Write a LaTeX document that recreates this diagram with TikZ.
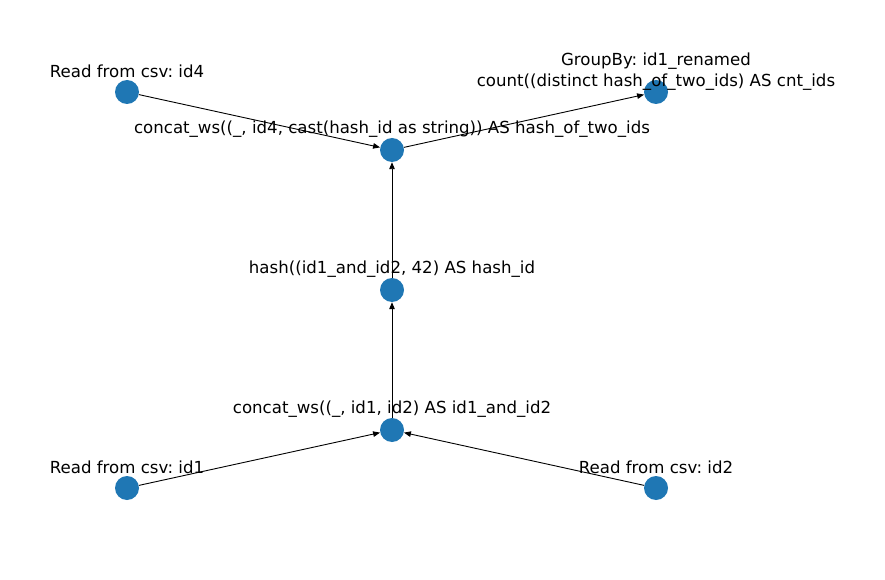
\documentclass[tikz,border=0pt]{standalone}
\usepackage{fontspec}
\setmainfont{DejaVu Sans}
\usetikzlibrary{arrows.meta}
\frenchspacing
\begin{document}
\begin{tikzpicture}[x=1bp,y=-1bp,
  vert/.style={circle,fill={rgb,255:red,31;green,119;blue,180},minimum size=24bp,inner sep=0pt},
  lab/.style={font=\fontsize{16.67}{20.5}\selectfont\frenchspacing,align=center,inner sep=0pt,anchor=center},
  edge/.style={draw=black,line width=0.9bp,-{Triangle[length=7bp,width=5.5bp]}}]
\useasboundingbox (0,0) rectangle (885,580);
\node[vert] (r4) at (127,92) {};
\node[vert] (cc) at (392,150) {};
\node[vert] (gb) at (656,92) {};
\node[vert] (hs) at (392,290) {};
\node[vert] (c12) at (392,430) {};
\node[vert] (r1) at (127,488) {};
\node[vert] (r2) at (656,488) {};
\draw[edge] (r4) -- (cc);
\draw[edge] (cc) -- (gb);
\draw[edge] (hs) -- (cc);
\draw[edge] (c12) -- (hs);
\draw[edge] (r1) -- (c12);
\draw[edge] (r2) -- (c12);
\node[lab] (lr4) at (127,71) {Read from csv: id4};
\node[lab] (lcc) at (392,129) {concat\_ws((\_, id4, cast(hash\_id as string)) AS hash\_of\_two\_ids};
\node[lab] (lgb) at (656,71.5) {GroupBy: id1\_renamed\\count((distinct hash\_of\_two\_ids) AS cnt\_ids};
\node[lab] (lhs) at (392,269) {hash((id1\_and\_id2, 42) AS hash\_id};
\node[lab] (lc12) at (392,409) {concat\_ws((\_, id1, id2) AS id1\_and\_id2};
\node[lab] (lr1) at (127,467) {Read from csv: id1};
\node[lab] (lr2) at (656,467) {Read from csv: id2};
\end{tikzpicture}
\end{document}
